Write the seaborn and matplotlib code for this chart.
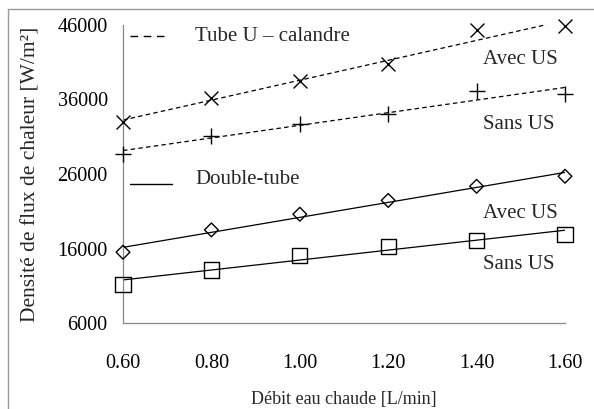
import numpy as np
import pandas as pd
import seaborn as sns
import matplotlib.pyplot as plt
from matplotlib.lines import Line2D

debit = [0.60, 0.80, 1.00, 1.20, 1.40, 1.60]
tube_u_avec = [33000, 36200, 38500, 40750, 45300, 45800]
tube_u_sans = [28700, 31100, 32700, 34000, 37100, 36700]
double_avec = [15500, 18500, 20600, 22450, 24350, 25700]
double_sans = [11200, 13100, 15100, 16300, 17100, 17900]
xticks = ["0.60", "0.80", "1.00", "1.20", "1.40", "1.60"]
yticks = [6000, 16000, 26000, 36000, 46000]

sns.set_theme(style="white")
plt.rcParams['font.family'] = ['Liberation Serif', 'DejaVu Serif']

fig = plt.figure(figsize=(5.94, 4.09), dpi=100)
ax = fig.add_axes([123/594, 1-323/409, (565-123)/594, (323-25)/409])

df = pd.DataFrame({
    "x": debit * 4,
    "y": tube_u_avec + tube_u_sans + double_avec + double_sans,
    "s": ["ua"]*6 + ["us"]*6 + ["da"]*6 + ["ds"]*6,
})
series = [("ua", "x", 10, "--"), ("us", "+", 11, "--"), ("da", "D", 7, "-"), ("ds", "s", 11, "-")]
for key, m, ms, ls in series:
    d = df[df.s == key]
    sns.scatterplot(data=d, x="x", y="y", ax=ax, marker=m, s=ms**2,
                    facecolor="none" if m in ("D", "s") else "black",
                    edgecolor="black", linewidth=1.0, legend=False, zorder=3,
                    clip_on=False)
    sns.regplot(data=d, x="x", y="y", ax=ax, scatter=False, ci=None, truncate=True,
                line_kws=dict(color="black", lw=0.9, ls=(0, (3.6, 2.6)) if ls == "--" else "-"))

ax.set_xlim(0.6, 1.6)
ax.set_ylim(6000, 46000)
ax.set_xticks(debit)
ax.set_xticklabels(xticks)
ax.set_yticks(yticks)
ax.tick_params(axis="both", direction="out", length=5, width=0.8, color="#888888",
               labelsize=14.5, colors="black", pad=6)
ax.tick_params(axis="x", pad=17)
for sp in ["top", "right"]:
    ax.spines[sp].set_visible(False)
for sp in ["left", "bottom"]:
    ax.spines[sp].set_color("#888888")
    ax.spines[sp].set_linewidth(0.9)
ax.set_xlabel("Débit eau chaude [L/min]", fontsize=13, labelpad=13)
ax.set_ylabel("Densité de flux de chaleur [W/m²]", fontsize=15.5, labelpad=12)

# legend-like annotations
ax.plot([0.616, 0.705], [44500, 44500], color="black", lw=1.0, ls=(0, (5.5, 4)))
ax.text(0.763, 44400, "Tube U – calandre", fontsize=15, va="center")
ax.plot([0.616, 0.711], [24700, 24700], color="black", lw=1.0)
ax.text(0.763, 25240, "Double-tube", fontsize=15, va="center")
for y, t in [(41380, "Avec US"), (32680, "Sans US"), (20700, "Avec US"), (13870, "Sans US")]:
    ax.text(1.414, y, t, fontsize=15, va="center")

# outer frame
fig.add_artist(Line2D([8/594, 8/594], [0, 1-9/409], transform=fig.transFigure, color="#999999", lw=1))
fig.add_artist(Line2D([8/594, 1], [1-9/409, 1-9/409], transform=fig.transFigure, color="#999999", lw=1))

fig.savefig("out.png", dpi=100)
